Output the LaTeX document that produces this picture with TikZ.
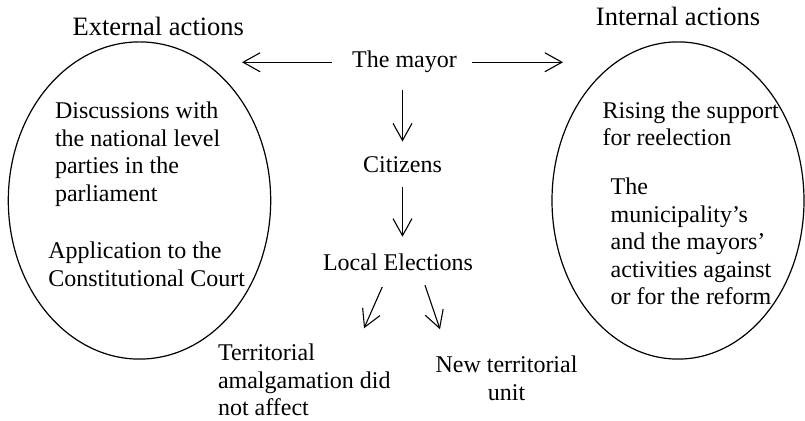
\documentclass[tikz,border=0pt]{standalone}
\usepackage{fontspec}
\setmainfont{Liberation Serif}
\usetikzlibrary{arrows.meta,shapes.geometric,calc}
\begin{document}
\begin{tikzpicture}[x=0.5pt,y=-0.5pt,
  txt/.style={inner sep=0pt,outer sep=0pt,font=\fontsize{12pt}{13.75pt}\selectfont},
  ttl/.style={inner sep=0pt,outer sep=0pt,font=\fontsize{13.25pt}{15pt}\selectfont},
  oval/.style={draw,ellipse,inner sep=0pt,line width=0.6pt},
  arr/.style={draw,line width=0.55pt,-{Straight Barb[length=8.5pt,width=9.5pt,line width=0.55pt]}}]
\path[use as bounding box] (0,0) rectangle (805,421);
% ellipses
\node[oval,minimum width=131.2pt,minimum height=158.6pt] (ext) at (139.5,200.5) {};
\node[oval,minimum width=126pt,minimum height=158.6pt] (int) at (678,200.5) {};
% titles
\node[ttl,anchor=base] (extT) at (158.3,35.5) {External actions};
\node[ttl,anchor=base] (intT) at (678,26) {Internal actions};
% centre column
\node[txt,anchor=base] (mayor) at (404.5,68) {The mayor};
\node[txt,anchor=base] (cit) at (402.5,173) {Citizens};
\node[txt,anchor=base] (le) at (398,271) {Local Elections};
% multi-line nodes: base anchor = last line's baseline
\node[txt,anchor=base west,align=left] (terr) at (218,416) {Territorial\\amalgamation did\\not affect};
\node[txt,anchor=base,align=center] (newt) at (506.5,400.5) {New territorial\\unit};
% ellipse texts
\node[txt,anchor=base west,align=left] (disc) at (55,201.5) {Discussions with\\the national level\\parties in the\\parliament};
\node[txt,anchor=base west,align=left] (appl) at (48.3,286.5) {Application to the\\Constitutional Court};
\node[txt,anchor=base west,align=left] (rise) at (602.7,146) {Rising the support\\for reelection};
\node[txt,anchor=base west,align=left] (muni) at (610.7,305) {The\\municipality’s\\and the mayors’\\activities against\\or for the reform};
% arrow end coordinates
\coordinate (lt) at (242,0);
\coordinate (rt) at (563,0);
\coordinate (t1) at (364,328.3);
\coordinate (t2) at (440,329.3);
% connectors
\draw[arr,shorten <=10pt] (mayor.west) -- (mayor.west -| lt);
\draw[arr,shorten <=7.5pt] (mayor.east) -- (mayor.east -| rt);
\draw[arr,shorten <=8.5pt,shorten >=7.8pt] (mayor.south -| cit) -- (cit.north);
\draw[arr,shorten <=7pt,shorten >=8.8pt] (cit.south) -- (cit.south |- le.north);
\draw[arr] ($(le.south)+(-15.7,15.7)$) -- (t1);
\draw[arr] ($(le.south)+(27,14)$) -- (t2);
\end{tikzpicture}
\end{document}
